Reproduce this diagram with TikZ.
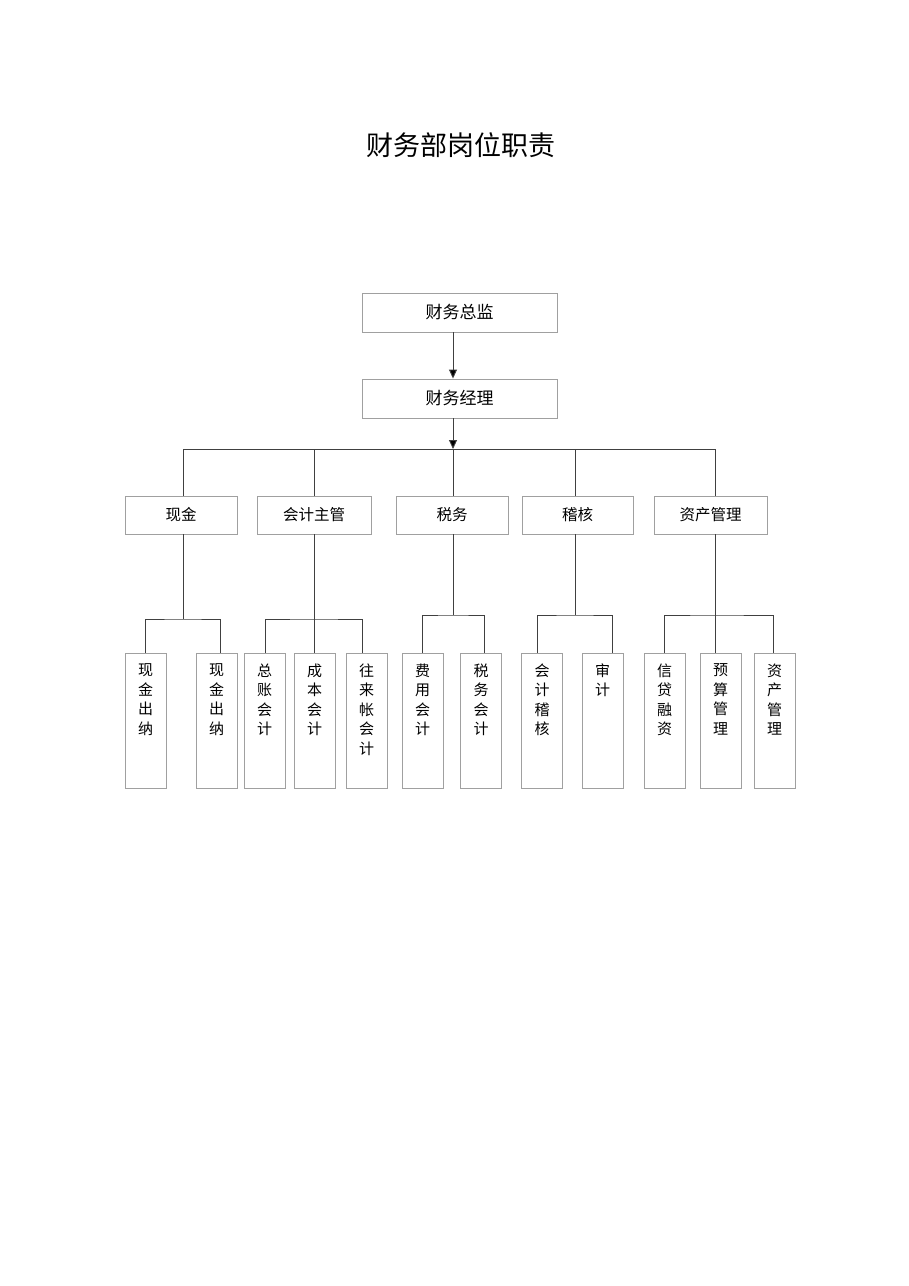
\documentclass[tikz,border=0pt]{standalone}
\usepackage{fontspec}
\setmainfont{Noto Sans CJK SC}
\usetikzlibrary{arrows.meta}
\definecolor{boxline}{HTML}{A0A0A0}
\definecolor{conline}{HTML}{404040}
\tikzset{
  box/.style={draw=boxline, line width=0.9pt, inner sep=0pt, anchor=center},
  topbox/.style={box, minimum width=195pt, minimum height=39pt, font=\fontsize{17}{20}\selectfont},
  midbox/.style={box, minimum height=38pt, font=\fontsize{15.5}{18}\selectfont},
  leaf/.style={box, minimum width=41pt, minimum height=135pt},
  leaftext/.style={anchor=north, inner sep=0pt, align=center, yshift=-11pt, font=\fontsize{15}{19.5}\selectfont},
  conn/.style={draw=conline, line width=0.9pt},
  arr/.style={conn, -{Triangle[width=8pt,length=9pt,fill=black]}},
}
\begin{document}
\begin{tikzpicture}[x=1pt,y=-1pt]
\useasboundingbox[fill=white] (0,0) rectangle (909,1286);
\node[font=\fontsize{27}{31}\selectfont] (title) at (461,145) {财务部岗位职责};

\node[topbox] (top) at (459.5,312.5) {财务总监};
\node[topbox] (mgr) at (459.5,398.5) {财务经理};

\node[midbox, minimum width=112pt] (cash) at (181,515) {现金};
\node[midbox, minimum width=114pt] (acct) at (314,515) {会计主管};
\node[midbox, minimum width=112pt] (tax)  at (452,515) {税务};
\node[midbox, minimum width=111pt] (aud)  at (577.5,515) {稽核};
\node[midbox, minimum width=113pt] (ast)  at (710.5,515) {资产管理};

\node[leaf] (c1) at (145.5,720.5) {};
\node[leaf] (c2) at (216.5,720.5) {};
\node[leaf] (z1) at (264.5,720.5) {};
\node[leaf] (z2) at (314.5,720.5) {};
\node[leaf] (z3) at (366.5,720.5) {};
\node[leaf] (t1) at (422.5,720.5) {};
\node[leaf] (t2) at (481,720.5) {};
\node[leaf] (h1) at (542,720.5) {};
\node[leaf] (h2) at (602.5,720.5) {};
\node[leaf] (a1) at (664.5,720.5) {};
\node[leaf] (a2) at (720.5,720.5) {};
\node[leaf] (a3) at (774.5,720.5) {};

\node[leaftext] at (c1.north) {现\\金\\出\\纳};
\node[leaftext] at (c2.north) {现\\金\\出\\纳};
\node[leaftext] at (z1.north) {总\\账\\会\\计};
\node[leaftext] at (z2.north) {成\\本\\会\\计};
\node[leaftext] at (z3.north) {往\\来\\帐\\会\\计};
\node[leaftext] at (t1.north) {费\\用\\会\\计};
\node[leaftext] at (t2.north) {税\\务\\会\\计};
\node[leaftext] at (h1.north) {会\\计\\稽\\核};
\node[leaftext] at (h2.north) {审\\计};
\node[leaftext] at (a1.north) {信\\贷\\融\\资};
\node[leaftext] at (a2.north) {预\\算\\管\\理};
\node[leaftext] at (a3.north) {资\\产\\管\\理};

% top connectors
\coordinate (j3) at (453,449);
\coordinate (j1) at (183,449);
\coordinate (j2) at (314,449);
\coordinate (j4) at (575,449);
\coordinate (j5) at (715,449);
\draw[arr] (top.south -| j3) -- (mgr.north -| j3);
\draw[arr] (mgr.south -| j3) -- (j3);
\draw[conn] (j1) -- (j5);
\draw[conn] (j1) -- (cash.north -| j1);
\draw[conn] (j2) -- (acct.north -| j2);
\draw[conn] (j3) -- (tax.north -| j3);
\draw[conn] (j4) -- (aud.north -| j4);
\draw[conn] (j5) -- (ast.north -| j5);

% cash group
\coordinate (k1) at (183,619);
\draw[conn] (cash.south -| k1) -- (k1);
\draw[conn] (c1.north -| 145,0) |- (k1) -| (c2.north -| 220,0);
% accounting group
\coordinate (k2) at (314,619);
\draw[conn] (acct.south -| k2) -- (z2.north -| k2);
\draw[conn] (z1.north -| 265,0) |- (k2) -| (z3.north -| 362,0);
% tax group
\coordinate (k3) at (453,615);
\draw[conn] (tax.south -| k3) -- (k3);
\draw[conn] (t1.north -| 422,0) |- (k3) -| (t2.north -| 484,0);
% audit group
\coordinate (k4) at (575,615);
\draw[conn] (aud.south -| k4) -- (k4);
\draw[conn] (h1.north -| 537,0) |- (k4) -| (h2.north -| 612,0);
% asset group
\coordinate (k5) at (715,615);
\draw[conn] (ast.south -| k5) -- (a2.north -| k5);
\draw[conn] (a1.north -| 664,0) |- (k5) -| (a3.north -| 773,0);
\end{tikzpicture}
\end{document}
